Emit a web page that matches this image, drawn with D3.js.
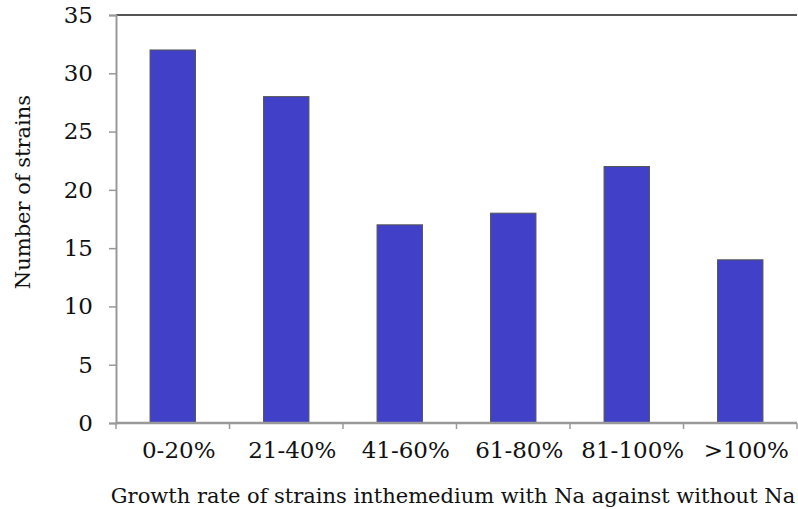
<!DOCTYPE html>
<html><head><meta charset="utf-8">
<script src="https://cdn.jsdelivr.net/npm/d3@7"></script>
<style>body{margin:0;background:#fff}svg{display:block}</style>
</head><body>
<svg id="c" width="798" height="509"></svg>
<script>
const categories = ["0-20%","21-40%","41-60%","61-80%","81-100%",">100%"];
const values = [32,28,17,18,22,14];
const yTicks = [0,5,10,15,20,25,30,35];
const xTitle = "Growth rate of strains inthemedium with Na against without Na";
const yTitle = "Number of strains";

const svg = d3.select("#c");
const m = {l:116, r:1, t:15, b:86};
const W = 798, H = 509;
const x = d3.scaleBand().domain(categories).range([m.l, W-m.r]).paddingInner(0.6).paddingOuter(0.3);
const y = d3.scaleLinear().domain([0,35]).range([H-m.b, m.t]);
const font = "'DejaVu Serif', serif";

// top border
svg.append("line").attr("x1",m.l).attr("x2",W-m.r).attr("y1",y(35)).attr("y2",y(35))
  .attr("stroke","#555").attr("stroke-width",2);

// bars
svg.selectAll("rect.bar").data(values).join("rect").attr("class","bar")
  .attr("x",(d,i)=>x(categories[i])).attr("width",x.bandwidth())
  .attr("y",d=>y(d)).attr("height",d=>y(0)-y(d))
  .attr("fill","#4040c8").attr("stroke","#555").attr("stroke-width",1);

// y axis
const ya = svg.append("g").attr("transform",`translate(${m.l},0)`)
  .call(d3.axisLeft(y).tickValues(yTicks).tickSize(7).tickPadding(16));
ya.select(".domain").attr("stroke","#999").attr("stroke-width",2);
ya.selectAll(".tick line").attr("stroke","#999").attr("stroke-width",1.5);
ya.selectAll("text").attr("font-family",font).attr("font-size",23).attr("fill","#111");

// x axis
const xb = d3.scalePoint().domain(d3.range(categories.length+1)).range([m.l, W-m.r]);
const xa = svg.append("g").attr("transform",`translate(0,${y(0)})`);
xa.append("line").attr("x1",m.l).attr("x2",W-m.r).attr("stroke","#999").attr("stroke-width",2.5);
xa.selectAll("line.t").data(d3.range(categories.length+1)).join("line").attr("class","t")
  .attr("x1",d=>xb(d)).attr("x2",d=>xb(d)).attr("y1",0).attr("y2",6)
  .attr("stroke","#999").attr("stroke-width",1.5);
xa.selectAll("text").data(categories).join("text")
  .attr("x",d=>x(d)+x.bandwidth()/2+6).attr("y",35)
  .attr("text-anchor","middle").attr("font-family",font).attr("font-size",23).attr("fill","#111")
  .text(d=>d);

svg.append("text").attr("x",453).attr("y",503).attr("text-anchor","middle")
  .attr("font-family",font).attr("font-size",21).attr("fill","#111").text(xTitle);
svg.append("text").attr("transform","translate(30,192) rotate(-90)").attr("text-anchor","middle")
  .attr("font-family",font).attr("font-size",21).attr("fill","#111").text(yTitle);
</script>
</body></html>
